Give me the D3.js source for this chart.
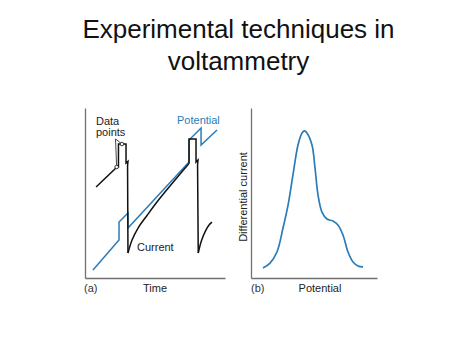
<!DOCTYPE html>
<html>
<head>
<meta charset="utf-8">
<script src="https://cdn.jsdelivr.net/npm/d3@7"></script>
<style>
  html, body { margin: 0; padding: 0; background: #fff; }
  svg { display: block; font-family: "Liberation Sans", Arial, Helvetica, sans-serif; }
</style>
</head>
<body>
<svg id="chart" width="474" height="355"></svg>
<script>
// ---------- data (panel a: time vs signal, arbitrary units 0-100) ----------
const titleLines = ["Experimental techniques in", "voltammetry"];

const potential = [
  [5.7, 4.7], [24.3, 22.4], [24.3, 32.9], [30.7, 38.2], [30.7, 29.4],
  [74.3, 68.2], [74.3, 81.2], [82.9, 88.2], [82.9, 78.2], [94.3, 87.1]
];

const currentPulse1 = [
  [7.9, 53.5], [22.9, 65.3], [23.9, 65.3], [23.9, 78.8], [29.3, 78.8],
  [29.3, 67.6], [30.7, 68.6], [30.4, 65.9], [30.7, 14.7]
];
const currentDecay1 = [
  [30.7, 14.7], [33.6, 22.4], [37.9, 29.4], [44.3, 36.8], [51.4, 44.7],
  [60.7, 54.1], [67.9, 61.2], [74.0, 67.1]
];
const currentPulse2 = [
  [74.0, 67.1], [74.3, 67.6], [74.3, 81.8], [79.3, 81.8], [79.3, 68.2],
  [80.7, 69.4], [80.4, 66.5], [80.9, 14.7]
];
const currentDecay2 = [
  [80.9, 14.7], [83.0, 21.5], [86.0, 27.6], [88.6, 31.2], [90.7, 32.9]
];

const dataPoints = [[22.6, 65.3], [26.4, 78.8]];
const leaderApex = [21.8, 81.8];

// ---------- data (panel b: potential vs differential current) ----------
const diffCurve = [
  [9.5, 5.9], [15.1, 8.8], [20.6, 15.3], [25.4, 29.4], [29.4, 42.9],
  [33.3, 60.6], [37.3, 78.2], [40.5, 85.3], [42.5, 86.5], [44.4, 85.3],
  [48.4, 78.2], [50.8, 64.7], [53.2, 48.8], [56.3, 38.8], [60.3, 34.7],
  [65.1, 33.5], [69.0, 31.2], [73.0, 25.3], [77.0, 15.3], [81.0, 9.4],
  [84.9, 7.1], [88.9, 6.5]
];

const labelsA = { panel: "(a)", x: "Time", current: "Current", potential: "Potential", dataPts: ["Data", "points"] };
const labelsB = { panel: "(b)", x: "Potential", y: "Differential current" };

// ---------- drawing ----------
const BLUE = "#2b7cb6";
const AXIS = "#707070";
const svg = d3.select("#chart");

// title
svg.append("g").selectAll("text").data(titleLines).join("text")
  .attr("x", 238.5).attr("y", (d, i) => 38 + i * 32)
  .attr("text-anchor", "middle").attr("font-size", 26).attr("fill", "#111")
  .text(d => d);

// ----- panel a -----
const xa = d3.scaleLinear().domain([0, 100]).range([85, 225]);
const ya = d3.scaleLinear().domain([0, 100]).range([278, 108]);
const ga = svg.append("g");

ga.append("g").attr("transform", `translate(0,${ya(0)})`)
  .call(d3.axisBottom(xa).tickValues([]).tickSizeOuter(0))
  .call(g => g.select(".domain").attr("stroke", AXIS).attr("stroke-width", 1.3));
ga.append("g").attr("transform", `translate(${xa(0)},0)`)
  .call(d3.axisLeft(ya).tickValues([]).tickSizeOuter(0))
  .call(g => g.select(".domain").attr("stroke", AXIS).attr("stroke-width", 1.3));

const lineA = d3.line().x(d => xa(d[0])).y(d => ya(d[1]));
const curveA = d3.line().x(d => xa(d[0])).y(d => ya(d[1])).curve(d3.curveCatmullRom.alpha(0.5));

ga.append("path").datum(potential).attr("d", lineA)
  .attr("fill", "none").attr("stroke", BLUE).attr("stroke-width", 1.5).attr("stroke-linejoin", "miter");

[currentPulse1, currentPulse2].forEach(seg => {
  ga.append("path").datum(seg).attr("d", lineA)
    .attr("fill", "none").attr("stroke", "#111").attr("stroke-width", 1.5).attr("stroke-linejoin", "miter");
});
[currentDecay1, currentDecay2].forEach(seg => {
  ga.append("path").datum(seg).attr("d", curveA)
    .attr("fill", "none").attr("stroke", "#111").attr("stroke-width", 1.5);
});

// leader lines from "Data points" label
ga.selectAll("line.leader").data(dataPoints).join("line").attr("class", "leader")
  .attr("x1", xa(leaderApex[0])).attr("y1", ya(leaderApex[1]))
  .attr("x2", d => xa(d[0])).attr("y2", d => ya(d[1]))
  .attr("stroke", "#333").attr("stroke-width", 0.9);
ga.selectAll("circle.pt").data(dataPoints).join("circle").attr("class", "pt")
  .attr("cx", d => xa(d[0])).attr("cy", d => ya(d[1])).attr("r", 1.8)
  .attr("fill", "#fff").attr("stroke", "#222").attr("stroke-width", 0.9);

// labels panel a
ga.selectAll("text.dp").data(labelsA.dataPts).join("text").attr("class", "dp")
  .attr("x", 96).attr("y", (d, i) => 125 + i * 10.5)
  .attr("font-size", 11).attr("fill", "#222").text(d => d);
ga.append("text").attr("x", 177).attr("y", 124).attr("font-size", 11)
  .attr("fill", BLUE).text(labelsA.potential);
ga.append("text").attr("x", 137).attr("y", 251).attr("font-size", 11)
  .attr("fill", "#222").text(labelsA.current);
ga.append("text").attr("x", 84).attr("y", 292).attr("font-size", 11)
  .attr("fill", "#333").text(labelsA.panel);
ga.append("text").attr("x", 155).attr("y", 292).attr("font-size", 11)
  .attr("text-anchor", "middle").attr("fill", "#222").text(labelsA.x);

// ----- panel b -----
const xb = d3.scaleLinear().domain([0, 100]).range([251, 377]);
const yb = d3.scaleLinear().domain([0, 100]).range([278, 108]);
const gb = svg.append("g");

gb.append("g").attr("transform", `translate(0,${yb(0)})`)
  .call(d3.axisBottom(xb).tickValues([]).tickSizeOuter(0))
  .call(g => g.select(".domain").attr("stroke", AXIS).attr("stroke-width", 1.3));
gb.append("g").attr("transform", `translate(${xb(0)},0)`)
  .call(d3.axisLeft(yb).tickValues([]).tickSizeOuter(0))
  .call(g => g.select(".domain").attr("stroke", AXIS).attr("stroke-width", 1.3));

gb.append("path").datum(diffCurve)
  .attr("d", d3.line().x(d => xb(d[0])).y(d => yb(d[1])).curve(d3.curveCatmullRom.alpha(0.5)))
  .attr("fill", "none").attr("stroke", BLUE).attr("stroke-width", 1.7);

gb.append("text").attr("x", 251).attr("y", 292).attr("font-size", 11)
  .attr("fill", "#333").text(labelsB.panel);
gb.append("text").attr("x", 320).attr("y", 292).attr("font-size", 11)
  .attr("text-anchor", "middle").attr("fill", "#222").text(labelsB.x);
gb.append("text").attr("transform", "translate(247,197) rotate(-90)")
  .attr("font-size", 11).attr("text-anchor", "middle").attr("fill", "#222").text(labelsB.y);
</script>
</body>
</html>
